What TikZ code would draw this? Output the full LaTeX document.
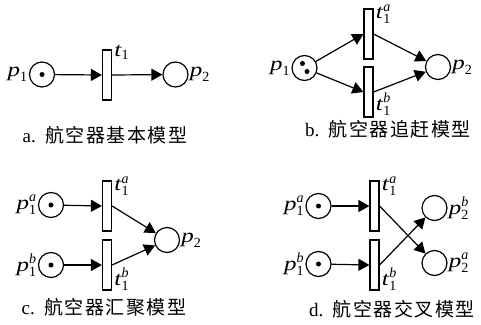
\documentclass[tikz,border=0pt]{standalone}
\usepackage{amsmath}
\usepackage{fontspec}
\setmainfont{Liberation Serif}
\newfontfamily\cjk[LetterSpace=8]{Noto Sans CJK SC}
\usetikzlibrary{arrows.meta,positioning}
\newcommand{\pv}[1]{\scalebox{1.25}[1]{\textit{#1}}}
\newcommand{\plbl}[3]{$\pv{#1}_{\text{#2}}^{\textit{#3}}$}
\newcommand{\pl}[2]{$\pv{#1}_{\text{#2}}$}

\begin{document}
\begin{tikzpicture}[
  x=1pt, y=-1pt,
  >=Triangle,
  place/.style={circle, draw, line width=1.2pt, minimum size=25pt, inner sep=0pt},
  trans/.style={rectangle, draw, line width=1.2pt, minimum width=9pt, minimum height=50pt, inner sep=0pt},
  tok/.style={circle, fill, minimum size=5pt, inner sep=0pt},
  lbl/.style={inner sep=1pt, font=\fontsize{20}{20}\selectfont},
  caption/.style={font=\fontsize{19}{19}\selectfont},
  flow/.style={-{Triangle[length=11pt,width=12pt]}, line width=1.2pt}
]
  \useasboundingbox (0,0) rectangle (481,324);
  % a: basic model
  \node[place] (pA1) at (42,74.5) {};
  \node[tok] (kA1) at (pA1.center) {};
  \node[trans] (tA) at (107,75) {};
  \node[place] (pA2) at (175.5,74.5) {};
  \node[lbl, left=0pt of pA1] (pA1l) {\pl{p}{1}};
  \node[lbl, right=0pt of pA2] (pA2l) {\pl{p}{2}};
  \node[lbl, anchor=north west, xshift=1pt, yshift=5pt] (tAl) at (tA.north east) {\pl{t}{1}};
  \draw[flow] (pA1) -- (tA.west);
  \draw[flow] (tA.east) -- (pA2);
  \node[caption] (capA) at (105,135) {a.\ \ {\cjk 航空器基本模型}};

  % b: overtaking model
  \node[place] (pB1) at (304.5,68) {};
  \node[tok] (kB1) at ([shift={(-2,-4.5)}]pB1.center) {};
  \node[tok] (kB2) at ([shift={(2.5,3.5)}]pB1.center) {};
  \node[trans] (tBa) at (368.5,34) {};
  \node[trans] (tBb) at (368.5,92) {};
  \node[place] (pB2) at (438,67) {};
  \node[lbl, left=0pt of pB1] (pB1l) {\pl{p}{1}};
  \node[lbl, right=0pt of pB2] (pB2l) {\pl{p}{2}};
  \node[lbl, anchor=north west, xshift=1pt, yshift=5pt] (tBal) at (tBa.north east) {\plbl{t}{1}{a}};
  \node[lbl, anchor=south west, xshift=1pt, yshift=1pt] (tBbl) at (tBb.south east) {\plbl{t}{1}{b}};
  \draw[flow] (pB1) -- (tBa.west);
  \draw[flow] (pB1) -- (tBb.west);
  \draw[flow] (tBa.east) -- (pB2);
  \draw[flow] (tBb.east) -- (pB2);
  \node[caption] (capB) at (388,129) {b.\ \ {\cjk 航空器追赶模型}};

  % c: merging model
  \node[place] (pC1a) at (51,205) {};
  \node[place] (pC1b) at (51,265) {};
  \node[tok] (kC1a) at (pC1a.center) {};
  \node[tok] (kC1b) at (pC1b.center) {};
  \node[trans] (tCa) at (107,206) {};
  \node[trans] (tCb) at (107,265) {};
  \node[place] (pC2) at (167,240) {};
  \node[lbl, left=0pt of pC1a] (pC1al) {\plbl{p}{1}{a}};
  \node[lbl, left=0pt of pC1b] (pC1bl) {\plbl{p}{1}{b}};
  \node[lbl, right=0pt of pC2] (pC2l) {\pl{p}{2}};
  \node[lbl, anchor=north west, xshift=1pt, yshift=5pt] (tCal) at (tCa.north east) {\plbl{t}{1}{a}};
  \node[lbl, anchor=south west, xshift=1pt, yshift=-1pt] (tCbl) at (tCb.south east) {\plbl{t}{1}{b}};
  \draw[flow] (pC1a) -- (tCa.west);
  \draw[flow] (pC1b) -- (tCb.west);
  \draw[flow] (tCa.east) -- (pC2);
  \draw[flow] (tCb.east) -- (pC2);
  \node[caption] (capC) at (104,307) {c.\ \ {\cjk 航空器汇聚模型}};

  % d: crossing model
  \node[place] (pD1a) at (318.5,206) {};
  \node[place] (pD1b) at (318.5,264) {};
  \node[tok] (kD1a) at (pD1a.center) {};
  \node[tok] (kD1b) at (pD1b.center) {};
  \node[trans] (tDa) at (374.5,206) {};
  \node[trans] (tDb) at (374.5,265) {};
  \node[place] (pD2b) at (434.5,208) {};
  \node[place] (pD2a) at (434.5,263) {};
  \node[lbl, left=0pt of pD1a] (pD1al) {\plbl{p}{1}{a}};
  \node[lbl, left=0pt of pD1b] (pD1bl) {\plbl{p}{1}{b}};
  \node[lbl, right=0pt of pD2b] (pD2bl) {\plbl{p}{2}{b}};
  \node[lbl, right=0pt of pD2a] (pD2al) {\plbl{p}{2}{a}};
  \node[lbl, anchor=north west, xshift=1pt, yshift=5pt] (tDal) at (tDa.north east) {\plbl{t}{1}{a}};
  \node[lbl, anchor=south west, xshift=1pt, yshift=-1pt] (tDbl) at (tDb.south east) {\plbl{t}{1}{b}};
  \draw[flow] (pD1a) -- (tDa.west);
  \draw[flow] (pD1b) -- (tDb.west);
  \draw[flow] (tDa.east) -- (pD2a);
  \draw[flow] (tDb.east) -- (pD2b);
  \node[caption] (capD) at (392,309) {d.\ \ {\cjk 航空器交叉模型}};
\end{tikzpicture}
\end{document}
